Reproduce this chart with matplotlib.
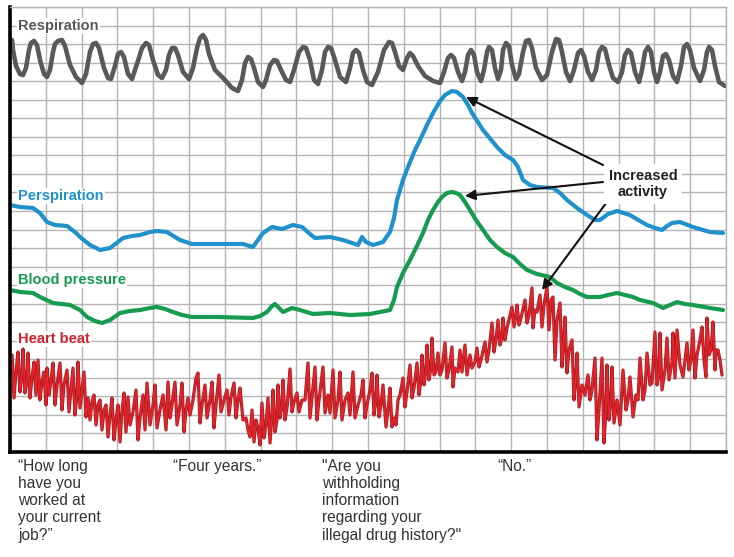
import numpy as np
import matplotlib
matplotlib.use("Agg")
import matplotlib.pyplot as plt

plt.rcParams["font.family"] = ["Liberation Sans", "DejaVu Sans"]

# chart paper units: x = time (paper position), y = pen deflection (down is larger)
resp = [(12, 40), (13, 50), (16, 66), (20, 74), (23, 75), (26, 68), (29, 50), (31, 43), (34, 41),
        (37, 45), (40, 60), (44, 74), (47, 77), (50, 70), (53, 52), (55, 44), (58, 41), (62, 40),
        (65, 46), (70, 65), (76, 77), (82, 83), (86, 74), (90, 52), (93, 44), (96, 43), (99, 48),
        (104, 68), (108, 78), (111, 79), (115, 66), (118, 54), (121, 52), (124, 57), (128, 74),
        (132, 79), (137, 64), (142, 48), (146, 43), (149, 45), (153, 60), (158, 75), (162, 78),
        (166, 70), (169, 55), (172, 48), (175, 48), (178, 55), (183, 72), (189, 79), (193, 68),
        (197, 48), (200, 38), (203, 35), (206, 40), (209, 54), (215, 70), (225, 80), (232, 88),
        (238, 91), (242, 80), (245, 63), (248, 57), (251, 59), (254, 68), (258, 82), (263, 87),
        (266, 80), (270, 65), (274, 60), (277, 61), (281, 70), (286, 80), (290, 82), (294, 70),
        (299, 52), (303, 47), (306, 48), (310, 60), (314, 80), (318, 84), (322, 70), (325, 52),
        (328, 47), (331, 48), (335, 60), (340, 77), (346, 82), (350, 68), (353, 53), (356, 50),
        (359, 53), (363, 70), (367, 82), (372, 85), (378, 72), (384, 50), (389, 42), (392, 43),
        (395, 52), (399, 66), (403, 70), (407, 58), (410, 53), (413, 56), (418, 66), (425, 76),
        (433, 81), (440, 83), (444, 72), (448, 58), (451, 55), (454, 58), (458, 72), (462, 81),
        (465, 72), (468, 55), (471, 50), (474, 55), (477, 72), (481, 81), (484, 70), (487, 52),
        (489, 47), (492, 50), (495, 68), (498, 79), (501, 70), (503, 50), (506, 43), (509, 46),
        (512, 65), (516, 79), (519, 74), (523, 52), (526, 41), (529, 40), (532, 48), (536, 68),
        (542, 80), (547, 75), (552, 52), (556, 39), (559, 40), (562, 52), (566, 72), (570, 81),
        (574, 70), (578, 53), (581, 50), (584, 56), (588, 72), (592, 80), (596, 70), (599, 52),
        (602, 47), (605, 49), (609, 65), (613, 78), (618, 82), (622, 72), (625, 55), (628, 50),
        (631, 53), (635, 72), (639, 82), (642, 70), (645, 52), (648, 47), (651, 52), (654, 72),
        (657, 82), (660, 72), (663, 56), (666, 54), (669, 60), (673, 76), (677, 82), (681, 66),
        (684, 47), (687, 44), (690, 50), (694, 68), (700, 81), (704, 70), (707, 52), (709, 47),
        (712, 50), (715, 66), (719, 82), (725, 86)]

persp = [(10, 205), (20, 207), (33, 208), (40, 213), (47, 222), (55, 225), (67, 226), (75, 232),
         (80, 237), (90, 245), (100, 250), (110, 248), (118, 242), (123, 238), (132, 236),
         (140, 235), (150, 232), (157, 231), (167, 232), (175, 237), (180, 240), (192, 244),
         (217, 244), (243, 244), (253, 247), (258, 240), (263, 233), (272, 227), (282, 229),
         (293, 225), (302, 227), (310, 234), (315, 238), (330, 237), (343, 240), (358, 245),
         (362, 237), (366, 242), (373, 245), (383, 242), (390, 232), (394, 218), (397, 200),
         (403, 180), (408, 167), (415, 150), (420, 140), (427, 125), (433, 113), (440, 101),
         (445, 95), (452, 91), (457, 92), (463, 97), (468, 105), (472, 113), (483, 130),
         (497, 147), (505, 155), (513, 160), (518, 167), (523, 180), (530, 185), (537, 187),
         (553, 188), (560, 193), (567, 200), (577, 208), (587, 215), (595, 220), (600, 220),
         (608, 214), (617, 211), (630, 215), (640, 221), (647, 225), (655, 228), (662, 230),
         (667, 226), (672, 223), (680, 222), (693, 227), (710, 232), (723, 233)]

bp = [(10, 290), (20, 292), (33, 293), (40, 297), (53, 303), (70, 305), (80, 310), (87, 317),
      (95, 321), (102, 323), (110, 320), (120, 313), (130, 311), (140, 310), (150, 308),
      (157, 307), (165, 309), (173, 312), (182, 315), (192, 317), (217, 317), (253, 318),
      (260, 316), (267, 312), (272, 306), (275, 304), (279, 308), (283, 312), (292, 308),
      (300, 310), (313, 314), (330, 313), (350, 315), (370, 314), (390, 310), (394, 300),
      (397, 287), (403, 273), (410, 260), (417, 246), (423, 233), (428, 220), (433, 210),
      (438, 202), (442, 197), (447, 193), (452, 192), (456, 193), (460, 195), (465, 202),
      (470, 210), (476, 220), (483, 230), (490, 240), (497, 247), (505, 253), (513, 257),
      (520, 264), (527, 270), (537, 274), (550, 277), (557, 283), (565, 287), (573, 290),
      (580, 294), (587, 297), (600, 297), (608, 295), (617, 293), (625, 295), (633, 297),
      (640, 300), (653, 303), (663, 308), (670, 305), (677, 302), (685, 304), (693, 305),
      (710, 308), (723, 310)]

heart = [(12, 355), (14, 398), (16, 372), (18, 352), (20, 392), (22, 375), (23, 349), (25, 393),
         (27, 380), (28, 353), (30, 398), (32, 378), (34, 362), (36, 395), (38, 360), (40, 400),
         (42, 382), (44, 372), (46, 405), (47, 368), (49, 395), (51, 380), (53, 363), (55, 405),
         (57, 385), (60, 363), (62, 410), (64, 385), (67, 370), (69, 412), (71, 390), (73, 368),
         (75, 415), (77, 395), (78, 362), (80, 408), (82, 390), (84, 372), (86, 417), (88, 398),
         (90, 420), (92, 402), (94, 395), (96, 425), (98, 405), (100, 400), (102, 430), (104, 410),
         (106, 405), (108, 437), (110, 415), (112, 398), (114, 440), (116, 420), (118, 405),
         (120, 442), (122, 410), (124, 393), (126, 432), (128, 397), (130, 425), (133, 412),
         (136, 390), (138, 440), (140, 418), (143, 395), (145, 430), (147, 383), (150, 425),
         (153, 405), (155, 385), (157, 428), (160, 410), (163, 395), (166, 430), (168, 382),
         (170, 418), (172, 405), (175, 382), (177, 425), (180, 405), (182, 383), (184, 432),
         (186, 410), (188, 398), (190, 415), (193, 400), (196, 378), (198, 373), (200, 423),
         (202, 405), (205, 385), (207, 418), (210, 400), (212, 382), (214, 428), (216, 405),
         (219, 375), (221, 412), (224, 400), (227, 390), (229, 415), (231, 397), (234, 383),
         (236, 418), (238, 400), (240, 388), (243, 420), (246, 418), (248, 430), (250, 437),
         (252, 410), (254, 442), (256, 420), (258, 428), (260, 445), (262, 403), (264, 438),
         (266, 425), (268, 398), (270, 443), (272, 415), (273, 390), (275, 432), (277, 420),
         (278, 385), (280, 418), (282, 405), (283, 380), (285, 420), (287, 408), (290, 369),
         (292, 412), (294, 402), (297, 393), (299, 412), (302, 400), (305, 400), (308, 363),
         (310, 418), (312, 398), (315, 367), (317, 420), (319, 400), (323, 367), (325, 413),
         (328, 395), (330, 413), (333, 370), (335, 418), (338, 400), (340, 372), (342, 420),
         (345, 400), (348, 393), (350, 415), (353, 372), (355, 418), (358, 405), (361, 395),
         (363, 380), (365, 418), (367, 405), (370, 390), (372, 373), (374, 415), (376, 400),
         (377, 375), (379, 417), (381, 405), (383, 385), (386, 427), (388, 410), (390, 388),
         (392, 427), (394, 418), (396, 425), (398, 400), (400, 395), (403, 378), (405, 407),
         (407, 392), (410, 365), (412, 398), (414, 388), (417, 363), (419, 395), (421, 380),
         (422, 355), (424, 385), (426, 370), (427, 345), (429, 380), (431, 368), (432, 338),
         (434, 375), (436, 372), (438, 353), (440, 375), (442, 370), (445, 343), (447, 378),
         (449, 370), (452, 347), (453, 387), (455, 368), (458, 372), (460, 350), (462, 372),
         (465, 345), (467, 375), (469, 362), (470, 355), (472, 368), (475, 362), (477, 348),
         (479, 367), (481, 360), (485, 342), (487, 362), (489, 350), (492, 323), (494, 352),
         (496, 340), (498, 320), (500, 345), (502, 338), (503, 318), (505, 340), (507, 328),
         (512, 307), (514, 327), (516, 315), (517, 305), (519, 325), (521, 318), (525, 300),
         (527, 323), (529, 315), (532, 288), (533, 328), (535, 310), (537, 312), (540, 295),
         (542, 327), (544, 305), (547, 287), (549, 330), (551, 300), (553, 297), (555, 360),
         (557, 320), (560, 303), (562, 367), (564, 335), (565, 317), (567, 373), (569, 350),
         (572, 340), (574, 400), (576, 375), (577, 353), (579, 407), (582, 385), (585, 395),
         (588, 375), (590, 400), (592, 390), (595, 358), (597, 440), (599, 410), (602, 358),
         (604, 443), (606, 410), (607, 365), (609, 420), (611, 400), (612, 367), (614, 423),
         (617, 400), (620, 425), (623, 370), (626, 410), (628, 400), (630, 377), (633, 417),
         (636, 395), (638, 400), (640, 358), (643, 400), (645, 390), (647, 353), (650, 385),
         (652, 383), (655, 332), (657, 385), (659, 375), (660, 333), (662, 390), (665, 370),
         (667, 338), (669, 380), (672, 362), (673, 333), (675, 378), (677, 330), (680, 365),
         (683, 377), (685, 360), (687, 343), (689, 370), (691, 360), (693, 330), (695, 378),
         (697, 355), (700, 340), (702, 327), (704, 360), (706, 377), (707, 318), (709, 355),
         (711, 350), (713, 322), (715, 370), (716, 350), (718, 350), (720, 360), (722, 375)]

questions = ["\u201cHow long\nhave you\nworked at\nyour current\njob?\u201d",
             "\u201cFour years.\u201d",
             "\"Are you\nwithholding\ninformation\nregarding your\nillegal drug history?\"",
             "\u201cNo.\u201d"]
question_t = [18, 173, 322, 497]

gray, blue, green, red = "#58595b", "#2191cc", "#169b50", "#e3242b"

fig = plt.figure(figsize=(7.34, 5.57), dpi=100)
ax = fig.add_axes([10 / 734, 105 / 557, 716 / 734, 445 / 557])
ax.set_xlim(10, 726)
ax.set_ylim(452, 7)
ax.set_xticks(np.linspace(10, 726, 21))
ax.set_yticks(np.linspace(7, 452, 25))
ax.grid(True, color="#b4b4b4", lw=1.0)
ax.set_axisbelow(True)
ax.tick_params(length=0, labelleft=False, labelbottom=False)
for s in ["top", "right"]:
    ax.spines[s].set_color("#b4b4b4")
    ax.spines[s].set_linewidth(1.0)
for s in ["left", "bottom"]:
    ax.spines[s].set_color("black")
    ax.spines[s].set_linewidth(2.6)

kw = dict(solid_capstyle="round", solid_joinstyle="round")
r = np.array(resp)
ax.plot(r[:, 0], r[:, 1], color=gray, lw=3.3, **kw)
p = np.array(persp)
ax.plot(p[:, 0], p[:, 1], color=blue, lw=3.0, **kw)
b = np.array(bp)
ax.plot(b[:, 0], b[:, 1], color=green, lw=3.0, **kw)
h = np.array(heart)
ax.plot(h[:, 0], h[:, 1], color="#a81c22", lw=2.3, **kw)
ax.plot(h[:, 0], h[:, 1], color=red, lw=1.2, **kw)

box = dict(facecolor="white", edgecolor="none", pad=1.0)
lab = dict(fontsize=10.5, fontweight="bold", va="center", ha="left", bbox=box)
ax.text(18, 26, "Respiration", color=gray, **lab)
ax.text(18, 196, "Perspiration", color=blue, **lab)
ax.text(18, 280, "Blood pressure", color=green, **lab)
ax.text(18, 339, "Heart beat", color="#d0222a", **lab)

arrow = dict(arrowstyle="-|>", color="#111111", lw=1.5, mutation_scale=15, shrinkA=0, shrinkB=0)
ax.annotate("", xy=(466, 97), xytext=(603, 165), arrowprops=arrow)
ax.annotate("", xy=(465, 196), xytext=(603, 182), arrowprops=arrow)
ax.annotate("", xy=(542, 290), xytext=(612, 195), arrowprops=arrow)
ax.text(643, 184, "Increased\nactivity", color="#222222", fontsize=10.5, fontweight="bold",
        ha="center", va="center", linespacing=1.25, zorder=5,
        bbox=dict(facecolor="white", edgecolor="none", pad=3.0))

for t, q in zip(question_t, questions):
    ax.text(t, 459, q, color="#333333", fontsize=11.2, ha="left", va="top", linespacing=1.18)

fig.savefig("out.png", dpi=100)
